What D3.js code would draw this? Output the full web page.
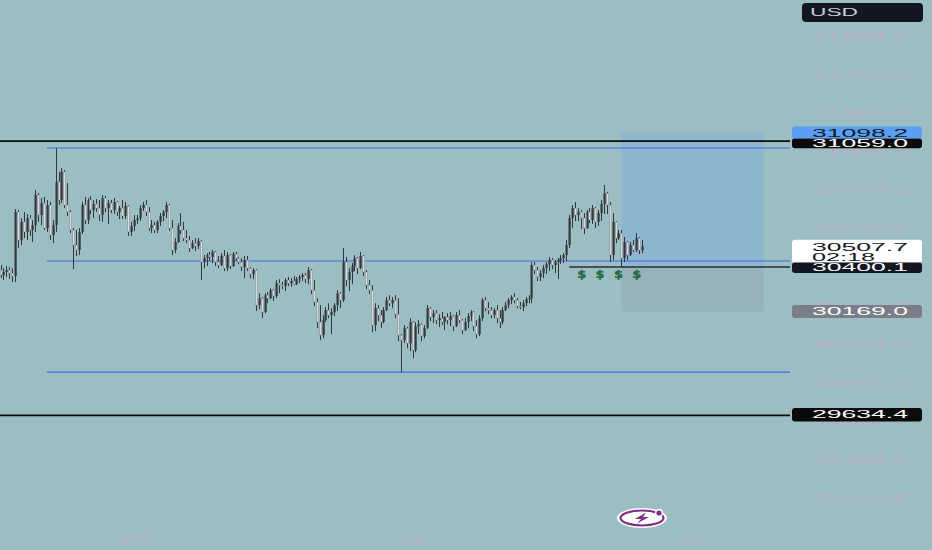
<!DOCTYPE html>
<html><head><meta charset="utf-8">
<script src="https://cdn.jsdelivr.net/npm/d3@7"></script>
<style>html,body{margin:0;padding:0;background:#9bbec2;overflow:hidden}</style>
</head><body><svg id="c" width="932" height="550"></svg>
<script>
// 15-minute OHLC bars [open, high, low, close]
const ohlc = [
[30384,30410,30342,30358],[30358,30394,30332,30374],[30374,30405,30348,30384],[30384,30400,30337,30368],[30368,30394,30322,30353],
[30353,30701,30322,30686],[30686,30696,30498,30540],[30540,30654,30514,30634],[30634,30686,30550,30582],[30582,30675,30540,30654],
[30654,30670,30561,30592],[30592,30644,30530,30618],[30618,30800,30582,30774],[30774,30784,30634,30670],[30670,30758,30618,30732],
[30732,30764,30592,30602],[30602,30748,30582,30722],[30722,30738,30540,30566],[30566,30644,30524,30618],[30618,31018,30582,30842],
[30842,30894,30722,30748],[30748,30914,30732,30894],[30894,30904,30706,30722],[30722,30836,30665,30686],[30686,30696,30576,30592],
[30592,30602,30389,30514],[30514,30592,30457,30488],[30488,30602,30462,30582],[30582,30738,30571,30722],[30722,30764,30623,30644],
[30644,30758,30623,30748],[30748,30769,30675,30696],[30696,30748,30654,30727],[30727,30753,30686,30706],[30706,30748,30639,30670],
[30670,30774,30634,30758],[30758,30769,30686,30706],[30706,30748,30623,30732],[30732,30748,30680,30696],[30696,30758,30675,30738],
[30738,30743,30665,30686],[30686,30717,30649,30706],[30706,30748,30649,30665],[30665,30738,30649,30717],[30717,30722,30561,30582],
[30582,30634,30561,30613],[30613,30670,30587,30644],[30644,30670,30623,30654],[30654,30722,30639,30706],[30706,30738,30691,30722],
[30722,30748,30665,30686],[30686,30712,30587,30602],[30602,30644,30576,30618],[30618,30634,30576,30592],[30592,30644,30576,30634],
[30634,30680,30613,30665],[30665,30696,30639,30686],[30686,30738,30654,30722],[30722,30727,30587,30602],[30602,30644,30462,30488],
[30488,30550,30472,30530],[30530,30628,30524,30613],[30613,30680,30571,30592],[30592,30634,30535,30550],[30550,30592,30524,30540],
[30540,30561,30478,30498],[30498,30540,30493,30524],[30524,30550,30483,30509],[30509,30550,30493,30535],[30535,30540,30332,30426],
[30426,30462,30394,30446],[30446,30472,30405,30462],[30462,30478,30431,30452],[30452,30488,30420,30478],[30478,30483,30405,30426],
[30426,30457,30394,30410],[30410,30472,30405,30457],[30457,30488,30379,30394],[30394,30478,30379,30462],[30462,30467,30389,30405],
[30405,30478,30400,30467],[30467,30478,30431,30446],[30446,30452,30415,30426],[30426,30446,30379,30400],[30400,30457,30342,30436],
[30436,30457,30379,30394],[30394,30400,30342,30363],[30363,30394,30337,30384],[30384,30389,30171,30202],[30202,30264,30181,30238],
[30238,30244,30134,30166],[30166,30264,30160,30254],[30254,30270,30212,30238],[30238,30290,30233,30280],[30280,30285,30223,30249],
[30249,30332,30238,30316],[30316,30337,30264,30306],[30306,30322,30285,30301],[30301,30342,30275,30332],[30332,30348,30301,30316],
[30316,30342,30296,30327],[30327,30353,30306,30311],[30311,30348,30306,30337],[30337,30358,30316,30348],[30348,30368,30327,30358],
[30358,30368,30316,30337],[30337,30400,30311,30384],[30384,30389,30259,30280],[30280,30332,30197,30218],[30218,30238,30082,30114],
[30114,30202,30020,30046],[30046,30150,30030,30124],[30124,30192,30114,30176],[30176,30212,30134,30150],[30150,30186,30051,30166],
[30166,30212,30145,30202],[30202,30280,30171,30264],[30264,30270,30186,30228],[30228,30498,30218,30426],[30426,30452,30301,30332],
[30332,30394,30275,30374],[30374,30420,30311,30405],[30405,30462,30379,30446],[30446,30452,30363,30394],[30394,30478,30389,30457],
[30457,30462,30353,30374],[30374,30384,30285,30306],[30306,30332,30259,30280],[30280,30306,30062,30098],[30098,30212,30067,30186],
[30186,30202,30119,30150],[30150,30176,30082,30114],[30114,30192,30108,30176],[30176,30244,30171,30228],[30228,30254,30197,30212],
[30212,30244,30186,30228],[30228,30254,30134,30155],[30155,30238,30015,30046],[30046,30051,29854,30020],[30020,30098,30004,30082],
[30082,30088,29978,30004],[30004,30134,29963,30114],[30114,30119,29926,29968],[29968,30114,29958,30093],[30093,30124,30051,30103],
[30103,30108,30015,30041],[30041,30098,30030,30082],[30082,30202,30077,30186],[30186,30192,30119,30140],[30140,30176,30108,30160],
[30160,30176,30103,30124],[30124,30155,30088,30134],[30134,30166,30098,30114],[30114,30145,30072,30140],[30140,30160,30103,30124],
[30124,30166,30093,30145],[30145,30150,30067,30093],[30093,30166,30088,30150],[30150,30176,30108,30124],[30124,30129,30051,30072],
[30072,30134,30067,30114],[30114,30160,30082,30145],[30145,30176,30119,30166],[30166,30171,30067,30093],[30093,30124,30030,30051],
[30051,30150,30041,30134],[30134,30238,30119,30228],[30228,30244,30171,30186],[30186,30218,30155,30176],[30176,30192,30134,30150],
[30150,30186,30134,30176],[30176,30202,30108,30134],[30134,30176,30082,30114],[30114,30192,30103,30176],[30176,30218,30171,30202],
[30202,30238,30186,30228],[30228,30254,30207,30244],[30244,30264,30212,30228],[30228,30238,30186,30197],[30197,30218,30181,30192],
[30192,30228,30171,30212],[30212,30244,30197,30233],[30233,30254,30212,30238],[30238,30426,30212,30410],[30410,30426,30363,30384],
[30384,30400,30327,30348],[30348,30384,30327,30368],[30368,30410,30342,30394],[30394,30426,30363,30415],[30415,30452,30379,30436],
[30436,30446,30389,30410],[30410,30436,30368,30426],[30426,30446,30337,30436],[30436,30462,30415,30446],[30446,30472,30420,30462],
[30462,30540,30431,30514],[30514,30670,30498,30654],[30654,30722,30602,30706],[30706,30738,30639,30670],[30670,30706,30639,30686],
[30686,30696,30597,30654],[30654,30680,30571,30602],[30602,30696,30597,30686],[30686,30706,30628,30644],[30644,30722,30623,30706],
[30706,30712,30602,30634],[30634,30696,30613,30680],[30680,30748,30639,30727],[30727,30826,30675,30784],[30784,30790,30675,30722],
[30722,30738,30426,30462],[30462,30680,30436,30634],[30634,30639,30524,30550],[30550,30592,30540,30576],[30576,30592,30400,30446],
[30446,30556,30426,30530],[30530,30535,30436,30462],[30462,30530,30457,30514],[30514,30540,30478,30488],[30488,30576,30478,30550],
[30550,30556,30467,30488],[30488,30540,30472,30507.7]
];
const barMinutes = 15;
const firstBar = Date.UTC(2023, 5, 27, 12, 30);
const dayTicks = [Date.UTC(2023,5,28), Date.UTC(2023,5,29), Date.UTC(2023,5,30)];
const dayLabels = ["28", "29", "30"];
const priceTicks = [31600, 31400, 31200, 31000, 30800, 30600, 30400, 30200, 30000, 29800, 29600, 29400, 29200];
const blackLevels = [31059.0, 29634.4];
const blueLevels = [31018, 30431, 29854];
const blueStart = Date.UTC(2023, 5, 27, 16, 30);
const entryPrice = 30400.1, targetPrice = 31098.2, stopPrice = 30169.0;
const posStart = Date.UTC(2023, 5, 29, 18, 0), posEnd = Date.UTC(2023, 5, 30, 6, 15);
const entryLineStart = Date.UTC(2023, 5, 29, 13, 30);
const dollarTimes = [Date.UTC(2023,5,29,14,35), Date.UTC(2023,5,29,16,10), Date.UTC(2023,5,29,17,45), Date.UTC(2023,5,29,19,20)];
const lastPrice = 30507.7, countdown = "02:18", currency = "USD";

const svg = d3.select("#c");
const W = 932, H = 550, plotRight = 790;
const x = d3.scaleUtc().domain([dayTicks[0], dayTicks[2]]).range([134, 691]);
const y = d3.scaleLinear().domain([29200, 31600]).range([498, 36]);
const fmt = d3.format(".1f");
const FONT = "'Liberation Sans', Arial, sans-serif";

svg.append("rect").attr("width", W).attr("height", H).attr("fill", "#9bbec2");

// faint price axis labels
const yAxis = d3.axisRight(y).tickValues(priceTicks).tickSize(0).tickFormat(fmt);
const ya = svg.append("g").attr("transform", `translate(${812},0)`).call(yAxis);
ya.select(".domain").remove();
ya.selectAll("text").attr("x", 0).attr("dy", "0.36em").attr("text-anchor", "start")
  .attr("fill", "#b7b0c3").attr("font-family", FONT).attr("font-size", 11)
  .attr("textLength", 96).attr("lengthAdjust", "spacingAndGlyphs");

// time axis labels
const xAxis = d3.axisBottom(x).tickValues(dayTicks).tickSize(0).tickFormat((d, i) => dayLabels[i]);
const xa = svg.append("g").attr("transform", `translate(0,${535})`).call(xAxis);
xa.select(".domain").remove();
xa.selectAll("text").attr("y", 0).attr("dy", "0.71em").attr("fill", "#b7b0c3")
  .attr("font-family", FONT).attr("font-size", 11)
  .attr("textLength", 27).attr("lengthAdjust", "spacingAndGlyphs");

// position tool
svg.append("rect").attr("x", x(posStart)).attr("width", x(posEnd) - x(posStart))
  .attr("y", y(targetPrice)).attr("height", y(entryPrice) - y(targetPrice))
  .attr("fill", "#5b9cf6").attr("opacity", 0.24);
svg.append("rect").attr("x", x(posStart)).attr("width", x(posEnd) - x(posStart))
  .attr("y", y(entryPrice)).attr("height", y(stopPrice) - y(entryPrice))
  .attr("fill", "#787b86").attr("opacity", 0.16);

// horizontal levels
svg.selectAll(".bl").data(blackLevels).join("line")
  .attr("x1", 0).attr("x2", plotRight).attr("y1", d => y(d) + 1).attr("y2", d => y(d) + 1)
  .attr("stroke", "#0b0b0b").attr("stroke-width", 1.6);
svg.selectAll(".bu").data(blueLevels).join("line")
  .attr("x1", x(blueStart)).attr("x2", plotRight).attr("y1", d => y(d)).attr("y2", d => y(d))
  .attr("stroke", "#3f6fe0").attr("stroke-width", 1.1);

// entry line
svg.append("line").attr("x1", x(entryLineStart)).attr("x2", plotRight)
  .attr("y1", y(entryPrice)).attr("y2", y(entryPrice))
  .attr("stroke", "#2a2e39").attr("stroke-width", 1.3);

// candles
const bars = ohlc.map((r, i) => ({t: firstBar + i * barMinutes * 60000, o: r[0], h: r[1], l: r[2], c: r[3]}));
const upCol = "#33373f", dnCol = "#d6dadd", wickCol = "#33373f";
const g = svg.append("g");
g.selectAll(".w").data(bars).join("line")
  .attr("x1", d => Math.round(x(d.t)) + 0.5).attr("x2", d => Math.round(x(d.t)) + 0.5)
  .attr("y1", d => y(d.h)).attr("y2", d => y(d.l))
  .attr("stroke", wickCol).attr("stroke-width", 1);
g.selectAll(".b").data(bars).join("rect")
  .attr("x", d => Math.round(x(d.t)) - 0.5).attr("width", 2.2)
  .attr("y", d => y(Math.max(d.o, d.c)))
  .attr("height", d => Math.max(1, Math.abs(y(d.o) - y(d.c))))
  .attr("fill", d => d.c >= d.o ? upCol : dnCol)
  .attr("stroke", d => d.c >= d.o ? "none" : "#6b7078").attr("stroke-width", 0.4);

// dollar markers
svg.selectAll(".dl").data(dollarTimes).join("text")
  .attr("x", d => x(d)).attr("y", y(entryPrice) + 11.5).attr("text-anchor", "middle")
  .attr("font-family", "'DejaVu Sans', sans-serif").attr("font-size", 10).attr("font-weight", "bold")
  .attr("fill", "#2a7a4a").attr("stroke", "#0f4d2a").attr("stroke-width", 0.3)
  .attr("textLength", 9).attr("lengthAdjust", "spacingAndGlyphs").text("$");

// right-side labels
function label(top, h, fill, txt, txtColor, baseline) {
  svg.append("rect").attr("x", 792).attr("y", top).attr("width", 130).attr("height", h)
    .attr("rx", 3).attr("fill", fill);
  svg.append("text").attr("x", 812).attr("y", baseline).attr("fill", txtColor)
    .attr("font-family", FONT).attr("font-size", 11.5)
    .attr("textLength", 96).attr("lengthAdjust", "spacingAndGlyphs").text(txt);
}
label(y(blackLevels[0]) - 2, 10, "#0b0b0b", fmt(blackLevels[0]), "#ffffff", y(blackLevels[0]) + 7);
label(y(targetPrice) - 6, 12, "#5a9ff5", fmt(targetPrice), "#131722", y(targetPrice) + 4.5);
// last price with countdown
svg.append("rect").attr("x", 792).attr("y", y(lastPrice) - 6.5).attr("width", 130).attr("height", 23)
  .attr("rx", 3).attr("fill", "#ffffff");
svg.append("text").attr("x", 812).attr("y", y(lastPrice) + 4.5).attr("fill", "#131722")
  .attr("font-family", FONT).attr("font-size", 11.5)
  .attr("textLength", 96).attr("lengthAdjust", "spacingAndGlyphs").text(fmt(lastPrice));
svg.append("text").attr("x", 812).attr("y", y(lastPrice) + 14.5).attr("fill", "#131722")
  .attr("font-family", FONT).attr("font-size", 11.5)
  .attr("textLength", 63).attr("lengthAdjust", "spacingAndGlyphs").text(countdown);
label(y(entryPrice) - 4.5, 10.5, "#131722", fmt(entryPrice), "#ffffff", y(entryPrice) + 4.5);
label(y(stopPrice) - 6.5, 13, "#7b7e87", fmt(stopPrice), "#ffffff", y(stopPrice) + 4);
label(y(blackLevels[1]) - 6.5, 13.5, "#0b0b0b", fmt(blackLevels[1]), "#ffffff", y(blackLevels[1]) + 4);

// currency box
svg.append("rect").attr("x", 802).attr("y", 3).attr("width", 121).attr("height", 19).attr("rx", 4).attr("fill", "#131722");
svg.append("text").attr("x", 810).attr("y", 16).attr("fill", "#c9ccd4").attr("font-family", FONT)
  .attr("font-size", 11).attr("textLength", 48).attr("lengthAdjust", "spacingAndGlyphs").text(currency);

// logo
const lg = svg.append("g").attr("transform", "translate(642,518)");
lg.append("ellipse").attr("rx", 25).attr("ry", 10).attr("fill", "#ffffff");
lg.append("ellipse").attr("rx", 21.5).attr("ry", 7.5).attr("fill", "#ffffff").attr("stroke", "#7d2f86").attr("stroke-width", 2.2);
lg.append("path").attr("d", "M4,-5.5 L-7,1 L-1,1 L-5,5.5 L7,-1 L1,-1 Z").attr("fill", "#7d2f86");
lg.append("circle").attr("cx", 17).attr("cy", -5).attr("r", 4).attr("fill", "#ffffff");
lg.append("circle").attr("cx", 17).attr("cy", -5).attr("r", 2.6).attr("fill", "#7d2f86");
</script></body></html>
